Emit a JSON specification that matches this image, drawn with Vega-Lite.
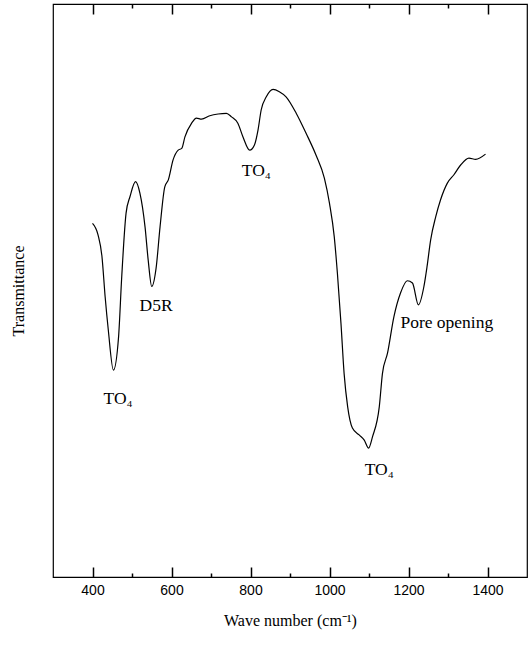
{
  "$schema": "https://vega.github.io/schema/vega-lite/v6.json",
  "width": 474,
  "height": 573,
  "autosize": {"type": "none"},
  "padding": {"left": 53, "top": 4, "right": 3, "bottom": 71},
  "background": "white",
  "config": {"view": {"stroke": "#000", "strokeWidth": 1.2}},
  "datasets": {
    "spectrum": [
      {"wn": 400, "T": 61.7}, {"wn": 414, "T": 59.7}, {"wn": 424, "T": 55.9}, {"wn": 432, "T": 48.9},
      {"wn": 440, "T": 43.1}, {"wn": 453, "T": 36.1}, {"wn": 466, "T": 41.9}, {"wn": 474, "T": 52.4},
      {"wn": 485, "T": 63.5}, {"wn": 495, "T": 66.4}, {"wn": 509, "T": 69.0}, {"wn": 520, "T": 67.0},
      {"wn": 533, "T": 61.1}, {"wn": 541, "T": 55.3}, {"wn": 550, "T": 50.7}, {"wn": 561, "T": 53.9},
      {"wn": 571, "T": 61.1}, {"wn": 583, "T": 68.1}, {"wn": 592, "T": 69.3}, {"wn": 604, "T": 72.8},
      {"wn": 617, "T": 74.5}, {"wn": 626, "T": 74.8}, {"wn": 634, "T": 76.8}, {"wn": 651, "T": 79.2},
      {"wn": 663, "T": 80.1}, {"wn": 676, "T": 79.9}, {"wn": 697, "T": 80.5}, {"wn": 718, "T": 80.8},
      {"wn": 739, "T": 80.9}, {"wn": 752, "T": 80.3}, {"wn": 768, "T": 79.2}, {"wn": 781, "T": 76.8},
      {"wn": 798, "T": 74.5}, {"wn": 810, "T": 75.4}, {"wn": 819, "T": 78.0}, {"wn": 827, "T": 81.5},
      {"wn": 840, "T": 83.8}, {"wn": 857, "T": 85.1}, {"wn": 873, "T": 84.7}, {"wn": 890, "T": 83.8},
      {"wn": 916, "T": 80.9}, {"wn": 941, "T": 77.4}, {"wn": 966, "T": 73.6}, {"wn": 987, "T": 69.6},
      {"wn": 1000, "T": 65.2}, {"wn": 1012, "T": 59.4}, {"wn": 1020, "T": 53.0}, {"wn": 1029, "T": 44.3},
      {"wn": 1037, "T": 35.5}, {"wn": 1046, "T": 29.7}, {"wn": 1058, "T": 26.0}, {"wn": 1075, "T": 24.8},
      {"wn": 1088, "T": 23.9}, {"wn": 1099, "T": 22.5}, {"wn": 1109, "T": 24.5}, {"wn": 1126, "T": 29.7},
      {"wn": 1134, "T": 35.5}, {"wn": 1147, "T": 39.1}, {"wn": 1163, "T": 45.4}, {"wn": 1180, "T": 49.6},
      {"wn": 1197, "T": 51.7}, {"wn": 1210, "T": 51.3}, {"wn": 1225, "T": 47.5}, {"wn": 1239, "T": 50.7},
      {"wn": 1247, "T": 54.2}, {"wn": 1256, "T": 58.8}, {"wn": 1269, "T": 62.9}, {"wn": 1281, "T": 65.8},
      {"wn": 1298, "T": 68.7}, {"wn": 1315, "T": 70.2}, {"wn": 1332, "T": 71.9}, {"wn": 1353, "T": 73.1},
      {"wn": 1370, "T": 72.9}, {"wn": 1395, "T": 73.8}
    ],
    "labels": [
      {"wn": 465, "T": 31.1, "label": "TO₄"},
      {"wn": 561, "T": 47.3, "label": "D5R"},
      {"wn": 815, "T": 70.9, "label": "TO₄"},
      {"wn": 1297, "T": 44.3, "label": "Pore opening"},
      {"wn": 1126, "T": 18.7, "label": "TO₄"}
    ]
  },
  "resolve": {"axis": {"x": "independent", "y": "independent"}},
  "layer": [
    {
      "data": {"name": "spectrum"},
      "mark": {"type": "line", "color": "#000", "strokeWidth": 1.2, "interpolate": "monotone"},
      "encoding": {
        "x": {"field": "wn", "type": "quantitative",
          "scale": {"domain": [300, 1500], "nice": false, "zero": false},
          "axis": {"orient": "bottom", "values": [400, 600, 800, 1000, 1200, 1400], "format": "d",
            "offset": -10, "ticks": true, "tickSize": 10, "tickWidth": 1.5, "tickOpacity": 1, "domain": false,
            "tickColor": "#000", "grid": false, "labelPadding": 6, "zindex": 2,
            "labelFont": "Liberation Sans", "labelFontSize": 14, "labelColor": "#000",
            "title": "Wave number (cm⁻¹)", "titleFont": "Liberation Serif", "titleFontSize": 16,
            "titleFontWeight": "normal", "titleColor": "#000", "titlePadding": 15}},
        "y": {"field": "T", "type": "quantitative",
          "scale": {"domain": [0, 100], "nice": false, "zero": false},
          "axis": {"orient": "left", "ticks": false, "labels": false, "grid": false, "domain": false,
            "title": "Transmittance", "titleFont": "Liberation Serif", "titleFontSize": 16,
            "titleFontWeight": "normal", "titleColor": "#000", "titlePadding": 27}}
      }
    },
    {
      "data": {"name": "spectrum"},
      "mark": {"type": "line", "strokeOpacity": 0},
      "encoding": {
        "x": {"field": "wn", "type": "quantitative",
          "axis": {"orient": "top", "values": [400, 600, 800, 1000, 1200, 1400], "zindex": 2,
            "offset": -10, "ticks": true, "tickSize": 10, "tickWidth": 1.5, "tickOpacity": 1, "domain": false,
            "tickColor": "#000", "grid": false, "labels": false, "title": null}},
        "y": {"field": "T", "type": "quantitative", "axis": null}
      }
    },
    {
      "data": {"name": "spectrum"},
      "mark": {"type": "line", "strokeOpacity": 0},
      "encoding": {
        "x": {"field": "wn", "type": "quantitative",
          "axis": {"orient": "bottom", "values": [500, 700, 900, 1100, 1300], "zindex": 2,
            "offset": -4, "ticks": true, "tickSize": 4, "tickWidth": 1.5, "tickOpacity": 1,
            "tickColor": "#000", "domain": false, "grid": false, "labels": false, "title": null}},
        "y": {"field": "T", "type": "quantitative", "axis": null}
      }
    },
    {
      "data": {"name": "spectrum"},
      "mark": {"type": "line", "strokeOpacity": 0},
      "encoding": {
        "x": {"field": "wn", "type": "quantitative",
          "axis": {"orient": "top", "values": [500, 700, 900, 1100, 1300], "zindex": 2,
            "offset": -4, "ticks": true, "tickSize": 4, "tickWidth": 1.5, "tickOpacity": 1,
            "tickColor": "#000", "domain": false, "grid": false, "labels": false, "title": null}},
        "y": {"field": "T", "type": "quantitative", "axis": null}
      }
    },
    {
      "data": {"name": "labels"},
      "mark": {"type": "text", "font": "Liberation Serif", "fontSize": 17.5, "color": "#000", "align": "center", "baseline": "middle"},
      "encoding": {
        "x": {"field": "wn", "type": "quantitative", "axis": null},
        "y": {"field": "T", "type": "quantitative", "axis": null},
        "text": {"field": "label", "type": "nominal"}
      }
    }
  ]
}
